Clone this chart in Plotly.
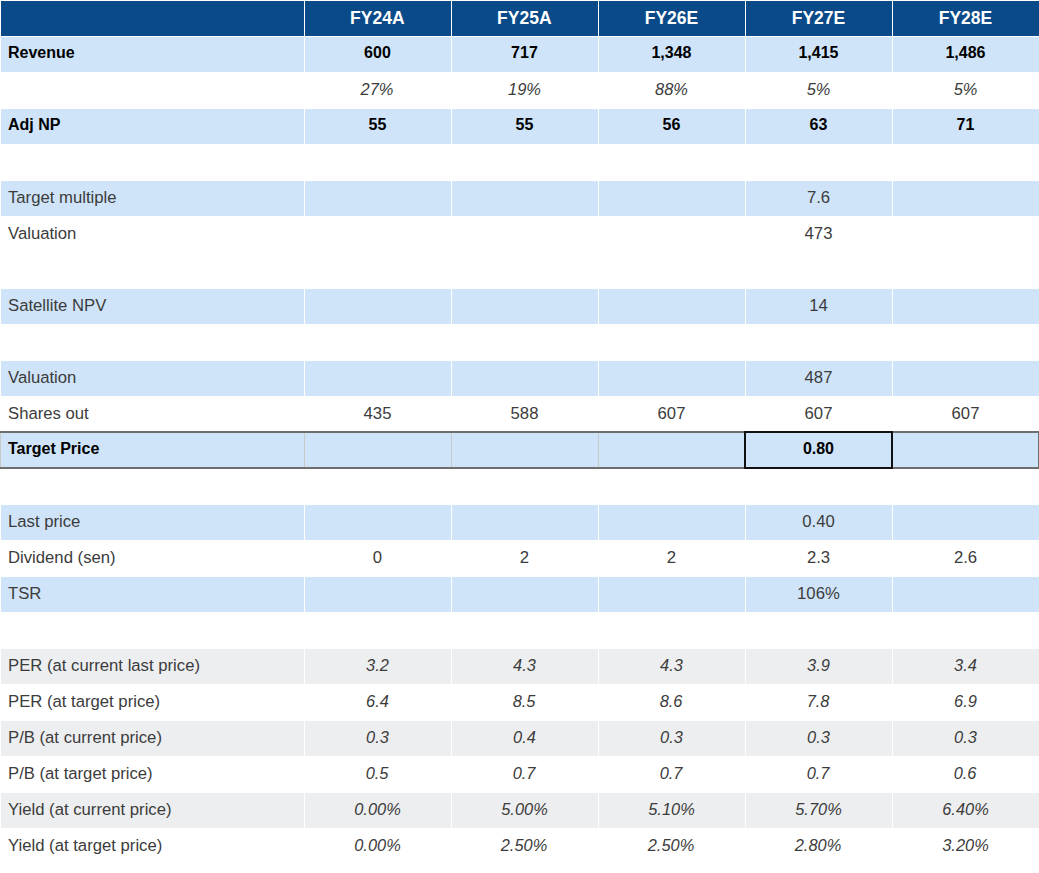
import plotly.graph_objects as go

W, H = 1039, 873
ROW_H = 36

years = ["FY24A", "FY25A", "FY26E", "FY27E", "FY28E"]

labels = ["Revenue", "", "Adj NP", "", "Target multiple", "Valuation", "",
          "Satellite NPV", "", "Valuation", "Shares out", "Target Price", "",
          "Last price", "Dividend (sen)", "TSR", "",
          "PER (at current last price)", "PER (at target price)",
          "P/B (at current price)", "P/B (at target price)",
          "Yield (at current price)", "Yield (at target price)"]

fy24a = ["600", "27%", "55", "", "", "", "", "", "", "", "435", "", "", "", "0", "", "",
         "3.2", "6.4", "0.3", "0.5", "0.00%", "0.00%"]
fy25a = ["717", "19%", "55", "", "", "", "", "", "", "", "588", "", "", "", "2", "", "",
         "4.3", "8.5", "0.4", "0.7", "5.00%", "2.50%"]
fy26e = ["1,348", "88%", "56", "", "", "", "", "", "", "", "607", "", "", "", "2", "", "",
         "4.3", "8.6", "0.3", "0.7", "5.10%", "2.50%"]
fy27e = ["1,415", "5%", "63", "", "7.6", "473", "", "14", "", "487", "607", "0.80", "",
         "0.40", "2.3", "106%", "",
         "3.9", "7.8", "0.3", "0.7", "5.70%", "2.80%"]
fy28e = ["1,486", "5%", "71", "", "", "", "", "", "", "", "607", "", "", "", "2.6", "", "",
         "3.4", "6.9", "0.3", "0.6", "6.40%", "3.20%"]

# row styles: fill kind and text style
row_fill = ["blue", "white", "blue", "white", "blue", "white", "white",
            "blue", "white", "blue", "white", "blue", "white",
            "blue", "white", "blue", "white",
            "grey", "white", "grey", "white", "grey", "white"]
row_text = ["bold", "italic", "bold", "plain", "plain", "plain", "plain",
            "plain", "plain", "plain", "plain", "bold", "plain",
            "plain", "plain", "plain", "plain",
            "italic", "italic", "italic", "italic", "italic", "italic"]

FILL = {"blue": "#CFE4F8", "white": "#FFFFFF", "grey": "#EDEEF0"}
HEADER_BLUE = "#0B4A88"
FONT = "Liberation Sans, Arial, sans-serif"

col_widths = [304, 147, 147, 147, 147, 147]
tp_idx = labels.index("Target Price")


def sized(txt, size):
    # trailing <br> keeps plotly from word-wrapping the styled span
    return "<span style='font-size:" + str(size) + "px'>" + txt + "</span><br>"


def fmt(v, style, is_label):
    if v == "":
        return ""
    if style == "bold":
        return "<b>" + v + "</b>"
    if style == "italic" and not is_label:
        return sized("<i>" + v + "</i>", 16.4)
    return sized(v, 16.7)


columns = [labels, fy24a, fy25a, fy26e, fy27e, fy28e]
cell_values, cell_colors, font_colors, line_colors = [], [], [], []
for ci, col in enumerate(columns):
    cell_values.append([fmt(v, row_text[i], ci == 0) for i, v in enumerate(col)])
    cell_colors.append([FILL[f] for f in row_fill])
    font_colors.append(["#000000" if row_text[i] == "bold" else "#3C3C3C"
                        for i in range(len(col))])
    line_colors.append(["#C9C9C9" if i == tp_idx else "#FFFFFF" for i in range(len(col))])

fig = go.Figure(go.Table(
    columnwidth=col_widths,
    header=dict(
        values=[""] + ["<b>" + y + "</b>" for y in years],
        fill_color=HEADER_BLUE,
        line=dict(color="#FFFFFF", width=1),
        font=dict(family=FONT, size=17.5, color="#FFFFFF"),
        align=["left"] + ["center"] * 5,
        height=ROW_H,
    ),
    cells=dict(
        values=cell_values,
        fill_color=cell_colors,
        line=dict(color=line_colors, width=1),
        font=dict(family=FONT, size=16, color=font_colors),
        align=["left"] + ["center"] * 5,
        height=ROW_H,
    ),
    domain=dict(x=[0, 1], y=[0, 1]),
))

# Target price row borders and highlight box
tp_row = tp_idx + 1  # +1 for header
y_top = 1 - (tp_row * ROW_H) / H
y_bot = 1 - ((tp_row + 1) * ROW_H) / H
total_w = sum(col_widths)
cum = [sum(col_widths[:i]) / total_w for i in range(len(col_widths) + 1)]
shapes = [
    dict(type="line", xref="paper", yref="paper", x0=0, x1=1, y0=y_top, y1=y_top,
         line=dict(color="#6E6E6E", width=2), layer="above"),
    dict(type="line", xref="paper", yref="paper", x0=0, x1=1, y0=y_bot, y1=y_bot,
         line=dict(color="#6E6E6E", width=2), layer="above"),
    dict(type="line", xref="paper", yref="paper", x0=1, x1=1, y0=y_bot, y1=y_top,
         line=dict(color="#6E6E6E", width=2), layer="above"),
    dict(type="rect", xref="paper", yref="paper", x0=cum[4], x1=cum[5], y0=y_bot, y1=y_top,
         line=dict(color="#111111", width=2), layer="above"),
]

fig.update_layout(
    width=W, height=H,
    margin=dict(l=0, r=0, t=0, b=0),
    paper_bgcolor="#FFFFFF",
    shapes=shapes,
)

fig.write_html(
    "out.html",
    config={"displayModeBar": False},
    post_script="document.body.style.margin='0';document.body.style.overflow='hidden';",
)
